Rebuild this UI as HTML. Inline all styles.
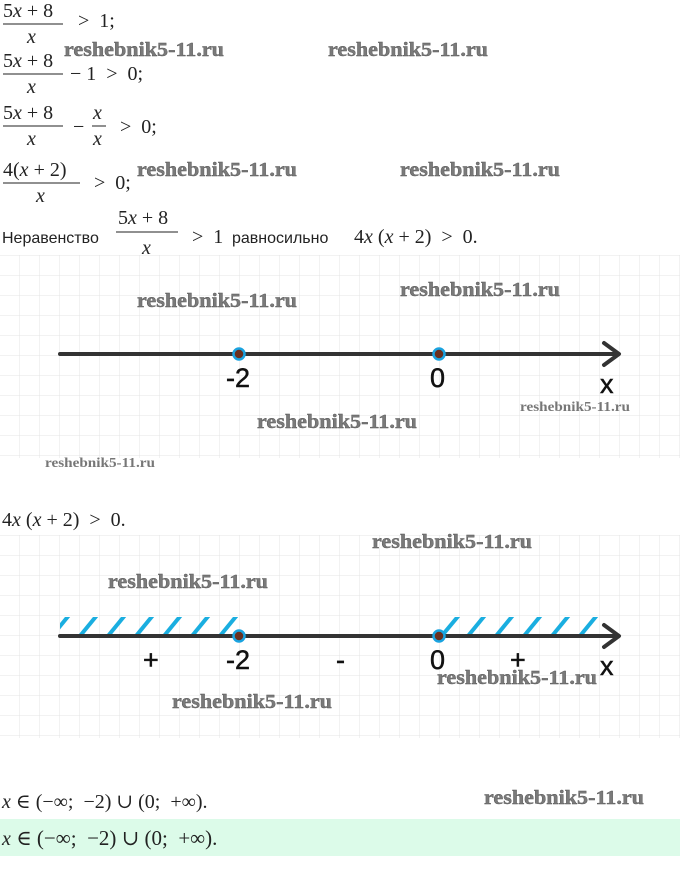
<!DOCTYPE html>
<html><head><meta charset="utf-8"><style>
html,body{margin:0;padding:0;background:#fff;width:680px;height:889px;overflow:hidden}
svg{display:block}
text{white-space:pre}
.m{font-family:"Liberation Serif","DejaVu Serif",serif;font-size:20px;fill:#222}
.mi{font-family:"Liberation Serif","DejaVu Serif",serif;font-style:italic;font-size:20px;fill:#222}
.s{font-family:"Liberation Sans","DejaVu Sans",sans-serif;font-size:16px;fill:#222}
.w{font-family:"Liberation Serif","DejaVu Serif",serif;font-weight:bold;font-size:20px;fill:#7a7a7a;stroke:#555;stroke-width:0.4}
.ws{font-family:"Liberation Serif","DejaVu Serif",serif;font-weight:bold;font-size:14px;fill:#777}
.L{font-family:"Liberation Sans","DejaVu Sans",sans-serif;font-size:27px;fill:#111;stroke:#111;stroke-width:0.5}
</style></head><body>
<svg width="680" height="889" xmlns="http://www.w3.org/2000/svg">
<defs>
<pattern id="g" x="19" y="15" width="20" height="20" patternUnits="userSpaceOnUse">
<path d="M0 0H20M0 0V20" stroke="#e4e4e4" stroke-width="1" fill="none"/>
</pattern>
<clipPath id="c1"><rect x="60" y="617" width="178" height="17"/></clipPath>
<clipPath id="c2"><rect x="440" y="617" width="160" height="17"/></clipPath>
</defs>
<rect x="0" y="255" width="680" height="203" fill="url(#g)"/>
<rect x="0" y="535" width="680" height="203" fill="url(#g)"/>
<rect x="0" y="819" width="680" height="37" fill="#dcfbe9"/>

<g>
<text class="m" x="3" y="17">5<tspan class="mi">x</tspan> + 8</text>
<line x1="3" y1="24" x2="63" y2="24" stroke="#222" stroke-width="1"/>
<text class="mi" x="27" y="43">x</text>
<text class="m" x="78" y="27">&gt;  1;</text>

<text class="m" x="3" y="67">5<tspan class="mi">x</tspan> + 8</text>
<line x1="3" y1="74" x2="63" y2="74" stroke="#222"/>
<text class="mi" x="27" y="93">x</text>
<text class="m" x="70" y="80">− 1  &gt;  0;</text>

<text class="m" x="3" y="119">5<tspan class="mi">x</tspan> + 8</text>
<line x1="3" y1="126" x2="63" y2="126" stroke="#222"/>
<text class="mi" x="27" y="145">x</text>
<text class="m" x="73" y="133">−</text>
<text class="mi" x="93" y="119">x</text>
<line x1="92" y1="126" x2="106" y2="126" stroke="#222"/>
<text class="mi" x="93" y="145">x</text>
<text class="m" x="120" y="133">&gt;  0;</text>

<text class="m" x="3" y="176">4(<tspan class="mi">x</tspan> + 2)</text>
<line x1="3" y1="183" x2="80" y2="183" stroke="#222"/>
<text class="mi" x="36" y="202">x</text>
<text class="m" x="94" y="189">&gt;  0;</text>

<text class="s" x="2" y="243">Неравенство</text>
<text class="m" x="118" y="224">5<tspan class="mi">x</tspan> + 8</text>
<line x1="116" y1="232" x2="178" y2="232" stroke="#222"/>
<text class="mi" x="142" y="254">x</text>
<text class="m" x="192" y="243">&gt;  1</text>
<text class="s" x="232" y="243">равносильно</text>
<text class="m" x="354" y="243">4<tspan class="mi">x</tspan> (<tspan class="mi">x</tspan> + 2)  &gt;  0.</text>

<text class="m" x="2" y="526">4<tspan class="mi">x</tspan> (<tspan class="mi">x</tspan> + 2)  &gt;  0.</text>

<text class="m" x="2" y="808"><tspan class="mi">x</tspan> ∈ (−∞;  −2) ∪ (0;  +∞).</text>
<text class="m" x="2" y="845" style="font-size:21px"><tspan class="mi">x</tspan> ∈ (−∞;  −2) ∪ (0;  +∞).</text>
</g>

<line x1="60" y1="354" x2="618" y2="354" stroke="#333" stroke-width="4" stroke-linecap="round"/>
<path d="M604 343 L619 354 L604 365" stroke="#333" stroke-width="4" fill="none" stroke-linecap="round" stroke-linejoin="round"/>
<circle cx="239" cy="354" r="5.5" fill="#6a3020" stroke="#1aa3e0" stroke-width="2.5"/>
<circle cx="439" cy="354" r="5.5" fill="#6a3020" stroke="#1aa3e0" stroke-width="2.5"/>
<text class="L" x="226" y="387">-2</text>
<text class="L" x="430" y="387">0</text>
<text class="L" x="600" y="393">x</text>

<g stroke="#1aaee0" stroke-width="4" clip-path="url(#c1)">
<line x1="52" y1="636" x2="70" y2="614"/><line x1="80" y1="636" x2="98" y2="614"/><line x1="108" y1="636" x2="126" y2="614"/><line x1="136" y1="636" x2="154" y2="614"/><line x1="164" y1="636" x2="182" y2="614"/><line x1="192" y1="636" x2="210" y2="614"/><line x1="220" y1="636" x2="238" y2="614"/>
</g>
<g stroke="#1aaee0" stroke-width="4" clip-path="url(#c2)">
<line x1="440" y1="638" x2="460" y2="614"/><line x1="468" y1="636" x2="486" y2="614"/><line x1="496" y1="636" x2="514" y2="614"/><line x1="524" y1="636" x2="542" y2="614"/><line x1="552" y1="636" x2="570" y2="614"/><line x1="580" y1="636" x2="598" y2="614"/>
</g>
<line x1="60" y1="636" x2="618" y2="636" stroke="#333" stroke-width="4" stroke-linecap="round"/>
<path d="M604 625 L619 636 L604 647" stroke="#333" stroke-width="4" fill="none" stroke-linecap="round" stroke-linejoin="round"/>
<circle cx="239" cy="636" r="5.5" fill="#6a3020" stroke="#1aa3e0" stroke-width="2.5"/>
<circle cx="439" cy="636" r="5.5" fill="#6a3020" stroke="#1aa3e0" stroke-width="2.5"/>
<text class="L" x="226" y="669">-2</text>
<text class="L" x="430" y="669">0</text>
<text class="L" x="600" y="675">x</text>
<text class="L" x="143" y="669">+</text>
<text class="L" x="336" y="669">-</text>
<text class="L" x="510" y="669">+</text>

<text class="w" x="64" y="56" textLength="160" lengthAdjust="spacingAndGlyphs">reshebnik5-11.ru</text>
<text class="w" x="328" y="56" textLength="160" lengthAdjust="spacingAndGlyphs">reshebnik5-11.ru</text>
<text class="w" x="137" y="176" textLength="160" lengthAdjust="spacingAndGlyphs">reshebnik5-11.ru</text>
<text class="w" x="400" y="176" textLength="160" lengthAdjust="spacingAndGlyphs">reshebnik5-11.ru</text>
<text class="w" x="137" y="307" textLength="160" lengthAdjust="spacingAndGlyphs">reshebnik5-11.ru</text>
<text class="w" x="400" y="296" textLength="160" lengthAdjust="spacingAndGlyphs">reshebnik5-11.ru</text>
<text class="w" x="257" y="428" textLength="160" lengthAdjust="spacingAndGlyphs">reshebnik5-11.ru</text>
<text class="ws" x="520" y="411" textLength="110" lengthAdjust="spacingAndGlyphs">reshebnik5-11.ru</text>
<text class="ws" x="45" y="467" textLength="110" lengthAdjust="spacingAndGlyphs">reshebnik5-11.ru</text>
<text class="w" x="372" y="548" textLength="160" lengthAdjust="spacingAndGlyphs">reshebnik5-11.ru</text>
<text class="w" x="108" y="588" textLength="160" lengthAdjust="spacingAndGlyphs">reshebnik5-11.ru</text>
<text class="w" x="437" y="684" textLength="160" lengthAdjust="spacingAndGlyphs">reshebnik5-11.ru</text>
<text class="w" x="172" y="708" textLength="160" lengthAdjust="spacingAndGlyphs">reshebnik5-11.ru</text>
<text class="w" x="484" y="804" textLength="160" lengthAdjust="spacingAndGlyphs">reshebnik5-11.ru</text>
</svg>
</body></html>
